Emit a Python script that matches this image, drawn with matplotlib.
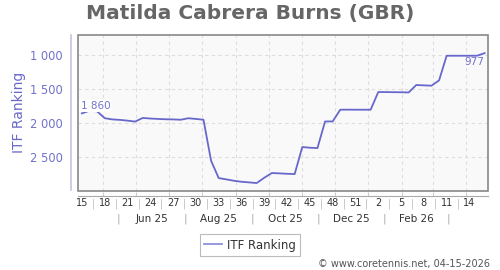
import matplotlib
matplotlib.use("Agg")
from matplotlib import pyplot as plt
from matplotlib.patches import Rectangle
import matplotlib.dates as mdates
import matplotlib.transforms as mtrans
import pandas as pd

# weekly ITF ranking, first point on 2025-04-12
start = "2025-04-12"
ranks = [1860, 1820, 1830, 1930, 1948, 1955, 1966, 1980, 1927, 1935,
         1941, 1946, 1948, 1953, 1931, 1941, 1953, 2554, 2808, 2827,
         2847, 2862, 2871, 2881, 2803, 2734, 2739, 2745, 2749, 2353,
         2363, 2368, 1978, 1978, 1806, 1805, 1806, 1806, 1806, 1547,
         1547, 1549, 1550, 1553, 1444, 1449, 1454, 1377, 1015, 1015,
         1015, 1015, 1015, 977]
y_ticks = [1000, 1500, 2000, 2500]
group_labels = ["Jun 25", "Aug 25", "Oct 25", "Dec 25", "Feb 26"]
title = "Matilda Cabrera Burns (GBR)"
footer = "\u00a9 www.coretennis.net, 04-15-2026"

line_col = "#6868cc"
text_col = "#7272cc"

dates = pd.date_range(start, periods=len(ranks), freq="7D")
xd = mdates.date2num(dates)
t0 = xd[0]
xlim = (t0 - 3.6, t0 + 374.1)

fig = plt.figure(figsize=(5, 2.7), dpi=100)
W, H = 500, 270
ax = fig.add_axes([78 / W, 1 - 190.5 / H, (488 - 78) / W, (190.5 - 35) / H])
ax.set_facecolor("#f9f9f9")

ax.plot(xd, ranks, color=line_col, lw=1.3, zorder=3)
ax.set_xlim(*xlim)
ax.set_ylim(2990, 711)

# grid
months = mdates.date2num(pd.date_range("2025-05-01", "2026-04-01", freq="MS"))
for m in months:
    ax.axvline(m, color="#dddddd", lw=0.8, ls=(0, (3, 3)), zorder=1)
for v in y_ticks:
    ax.axhline(v, color="#dddddd", lw=0.8, ls=(0, (3, 3)), zorder=1)

ax.set_yticks(y_ticks)
ax.yaxis.set_major_formatter(lambda v, p: f"{v:,.0f}".replace(",", " "))
ax.tick_params(axis="y", length=0, pad=6, labelsize=8.3, labelcolor=text_col)
ax.set_xticks([])
for s in ["top", "right", "bottom"]:
    ax.spines[s].set_visible(False)
ax.spines["left"].set_position(("outward", 5))
ax.spines["left"].set_color("#c4c4e6")
ax.spines["left"].set_linewidth(1.2)
ax.add_patch(Rectangle((0, 0), 1, 1, transform=ax.transAxes, fill=False,
                       edgecolor="#888888", lw=1.2, clip_on=False, zorder=4))
ax.set_ylabel("ITF Ranking", color=line_col, fontsize=10, labelpad=3)

# value labels
ax.annotate(f"{ranks[0]:,}".replace(",", " "), (xd[0], ranks[0]),
            xytext=(-1, 2), textcoords="offset points", ha="left", va="bottom",
            fontsize=7.5, color=text_col, zorder=5,
            bbox=dict(boxstyle="square,pad=0.1", fc="white", ec="none"))
ax.annotate(f"{ranks[-1]}", (xd[-1], ranks[-1]),
            xytext=(0, -3), textcoords="offset points", ha="right", va="top",
            fontsize=7.5, color=text_col, zorder=5)

# bottom axis line with month ticks
ax2 = fig.add_axes([78 / W, 1 - 195.5 / H, (488 - 78) / W, 0.001])
ax2.patch.set_visible(False)
ax2.set_xlim(*xlim)
for s in ["top", "right", "left"]:
    ax2.spines[s].set_visible(False)
ax2.spines["bottom"].set_color("#aaaaaa")
ax2.set_yticks([])
ax2.set_xticks(months)
ax2.tick_params(axis="x", direction="in", length=3, color="#cccccc",
                labelbottom=False)

# week labels with separators
trans = mtrans.blended_transform_factory(ax.transData, fig.transFigure)
wk = pd.date_range(start, "2026-04-10", freq="21D")
for d in wk:
    x = mdates.date2num(d)
    fig.text(x, 1 - 203.5 / H, str(d.isocalendar().week), transform=trans,
             ha="center", va="center", fontsize=7, color="#333333")
    if d != wk[-1]:
        fig.text(x + 10.5, 1 - 203.5 / H, "|", transform=trans,
                 ha="center", va="center", fontsize=7, color="#bbbbbb")

# month groups
seps = pd.date_range("2025-05-01", "2026-03-01", freq="2MS") + pd.Timedelta(days=15)
sx = mdates.date2num(seps)
for x in sx:
    fig.text(x, 1 - 219 / H, "|", transform=trans, ha="center", va="center",
             fontsize=8, color="#aaaaaa")
for a, b, lab in zip(sx[:-1], sx[1:], group_labels):
    fig.text((a + b) / 2, 1 - 219 / H, lab, transform=trans, ha="center",
             va="center", fontsize=7.5, color="#333333")

fig.suptitle(title, x=0.5, y=1 - 14 / H, va="center", fontsize=14.5,
             fontweight="bold", color="#666666")

leg = fig.legend(["ITF Ranking"], loc="center", bbox_to_anchor=(0.5, 1 - 245 / H),
                 fontsize=8.5, frameon=True, fancybox=False, handlelength=1.5,
                 handletextpad=0.4, borderpad=0.4, edgecolor="#aaaaaa",
                 labelcolor="#333333")
leg.get_frame().set_linewidth(0.8)
for h in leg.get_lines():
    h.set_color("#9090dd")

fig.text(490 / W, 1 - 264 / H, footer, ha="right", va="center",
         fontsize=7, color="#555555")

fig.savefig("out.png", dpi=100)
